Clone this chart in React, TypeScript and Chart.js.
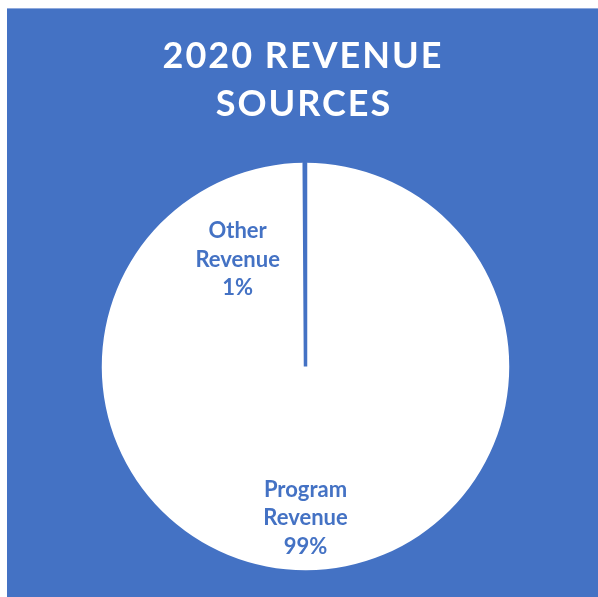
import React, { useEffect, useRef } from "react";
import { Chart, registerables } from "chart.js";

Chart.register(...registerables);

const titleLines = ["2020 REVENUE", "SOURCES"];
const categories = ["Program Revenue", "Other Revenue"];
const values = [99.9, 0.1];
const percentLabels = ["99%", "1%"];
const labelLines = [["Program", "Revenue"], ["Other", "Revenue"]];

const BLUE = "#4472C4";

const labelPlugin = {
  id: "customLabels",
  afterDraw(chart: any) {
    const ctx = chart.ctx;
    const meta = chart.getDatasetMeta(0);
    const arc0 = meta.data[0];
    if (!arc0) return;
    const cx = arc0.x;
    const cy = arc0.y;
    const r = arc0.outerRadius;

    ctx.save();
    // title
    ctx.fillStyle = "#ffffff";
    ctx.font = "bold 36px Lato";
    ctx.textAlign = "center";
    ctx.textBaseline = "alphabetic";
    (ctx as any).letterSpacing = "2px";
    ctx.fillText(titleLines[0], 296, 59);
    ctx.fillText(titleLines[1], 297, 107);

    // slice labels
    (ctx as any).letterSpacing = "0px";
    ctx.fillStyle = BLUE;
    ctx.font = "bold 22px Lato";
    const offsets = [
      { x: 0.0, y: 0.64 },
      { x: -0.333, y: -0.63 },
    ];
    categories.forEach((_, i) => {
      const lines = [...labelLines[i], percentLabels[i]];
      const bx = cx + offsets[i].x * r;
      const by = cy + offsets[i].y * r;
      lines.forEach((ln, j) => {
        ctx.fillText(ln, bx, by + j * 28.5);
      });
    });
    ctx.restore();
  },
};

export default function App() {
  const ref = useRef<HTMLCanvasElement | null>(null);
  useEffect(() => {
    if (!ref.current) return;
    const chart = new Chart(ref.current, {
      type: "pie",
      data: {
        labels: categories,
        datasets: [
          {
            data: values,
            backgroundColor: ["#ffffff", BLUE],
            borderColor: ["#ffffff", BLUE],
            borderWidth: [0, 3.5],
          },
        ],
      },
      options: {
        animation: false,
        responsive: false,
        maintainAspectRatio: false,
        layout: { padding: { top: 152, bottom: 25, left: 92, right: 86 } },
        plugins: {
          legend: { display: false },
          title: { display: false },
          tooltip: { enabled: false },
        },
      },
      plugins: [labelPlugin],
    });
    return () => chart.destroy();
  }, []);
  return (
    <div
      style={{
        position: "fixed",
        left: 7,
        top: 8,
        width: 591,
        height: 589,
        background: BLUE,
        borderTop: "1px solid #8fa9dc",
        boxSizing: "border-box",
      }}
    >
      <canvas ref={ref} width={591} height={588} style={{ display: "block" }} />
    </div>
  );
}
